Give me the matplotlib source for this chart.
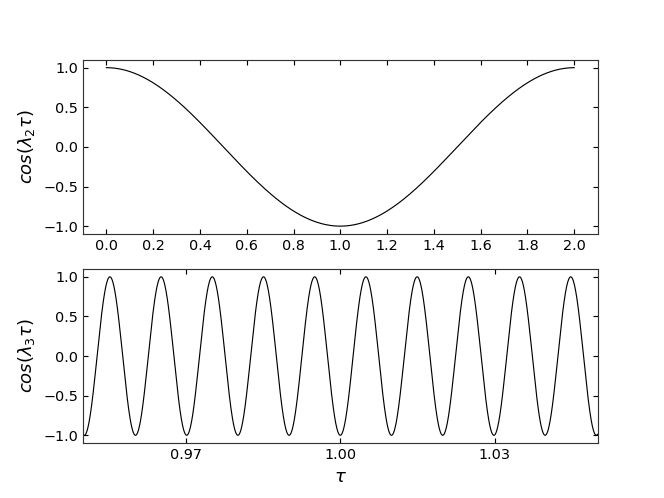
import numpy as np
import matplotlib
matplotlib.use('Agg')
import matplotlib.pyplot as plt

# frequencies of the two cosines
lam2 = np.pi
lam3 = 201*np.pi

# tau ranges
tau2_range = [0.0, 2.0]
tau3_range = [0.95, 1.05]
tau3_ticks = [0.97, 1.00, 1.03]

tau2 = np.linspace(tau2_range[0], tau2_range[1], 1000)
tau3 = np.linspace(tau3_range[0], tau3_range[1], 4000)

fig = plt.figure(figsize=(6.4, 4.8), dpi=103.75)

ax1 = plt.subplot(2, 1, 1)
ax1.plot(tau2, np.cos(lam2*tau2), color='black', lw=0.8)
ax1.set_ylabel(r'$cos(\lambda_2\tau)$', fontsize=12.5)
ax1.set_xticks(np.arange(0, 2.01, 0.2))
ax1.set_yticks([-1.0, -0.5, 0.0, 0.5, 1.0])
ax1.tick_params(direction='in', top=True, right=True)

ax2 = plt.subplot(2, 1, 2)
ax2.plot(tau3, np.cos(lam3*tau3), color='black', lw=0.8)
ax2.set_xlim(tau3_range)
ax2.set_xticks(tau3_ticks)
ax2.set_xticklabels(['%.2f' % t for t in tau3_ticks])
ax2.set_yticks([-1.0, -0.5, 0.0, 0.5, 1.0])
ax2.set_ylabel(r'$cos(\lambda_3\tau)$', fontsize=12.5)
ax2.set_xlabel(r'$\tau$', fontsize=12.5)
ax2.tick_params(direction='in', top=True, right=True)

for ax in [ax1, ax2]:
    for s in ax.spines.values():
        s.set_color('#333333')

plt.savefig('out.png', dpi=103.75)
